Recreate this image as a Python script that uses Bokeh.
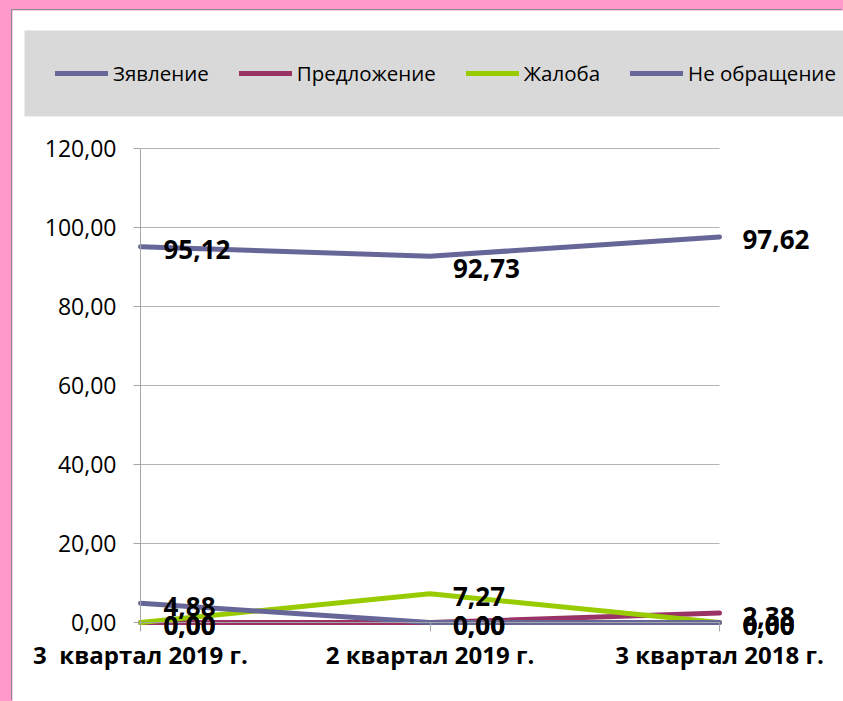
from bokeh.plotting import figure
from bokeh.models import (ColumnDataSource, LabelSet, Legend, LegendItem, Range1d,
                          FixedTicker, GlobalInlineStyleSheet, LinearAxis)
from bokeh.core.properties import value
from bokeh.embed import file_html
from bokeh.resources import INLINE

categories = ["3\u00a0 квартал 2019 г.", "2 квартал 2019 г.", "3 квартал 2018 г."]
series_names = ["Зявление", "Предложение", "Жалоба", "Не обращение"]
zayavlenie = [95.12, 92.73, 97.62]
predlozhenie = [0.00, 0.00, 2.38]
zhaloba = [0.00, 7.27, 0.00]
ne_obrashchenie = [4.88, 0.00, 0.00]
y_ticks = [0, 20, 40, 60, 80, 100, 120]
y_tick_labels = ["0,00", "20,00", "40,00", "60,00", "80,00", "100,00", "120,00"]

series_values = [zayavlenie, predlozhenie, zhaloba, ne_obrashchenie]
colors = ["#666699", "#993366", "#99CC00", "#666699"]
label_dy = [[-3, -12, -3], [-3, -3, -3], [-3, -3, -3], [-3, -3, -3]]

FONT = "Open Sans"
W, H = 831, 691
# plot area inside the canvas (pixels): left, right, top, bottom
PL, PR, PT, PB = 128, 707, 138, 612
# legend box (pixels): left, top, bottom
LL, LT, LB = 12, 20, 106
x0, x1, y0, y1 = 0, 2, 0, 120
sx = (PR - PL) / (x1 - x0)
sy = (PB - PT) / (y1 - y0)
xs = x0 - PL / sx
ye = y1 + PT / sy

p = figure(width=W, height=H, output_backend="svg", toolbar_location=None,
           x_axis_type=None, y_axis_type=None,
           x_range=Range1d(xs, x1 + (W - PR) / sx),
           y_range=Range1d(y0 - (H - PB) / sy, ye),
           min_border=0, background_fill_color="white",
           border_fill_color="white", outline_line_color=None)
p.margin = (10, 0, 0, 12)
p.styles = {"box-shadow": "-1px -1px 0 #8C8C8C"}
p.stylesheets = [GlobalInlineStyleSheet(
    css="html, body {margin:0; padding:0; background:#FF99CC; overflow:hidden;}")]
p.xgrid.visible = False
p.ygrid.visible = False

# grey legend panel
p.quad(left=[xs + LL / sx], right=[xs + W / sx], top=[ye - LT / sy], bottom=[ye - LB / sy],
       fill_color="#D9D9D9", line_color=None)

# horizontal gridlines across the plot area
p.segment(x0=[x0] * len(y_ticks), x1=[x1] * len(y_ticks), y0=y_ticks, y1=y_ticks,
          line_color="#B3B3B3", line_width=1)

# axes at fixed locations
yax = LinearAxis(fixed_location=x0, ticker=FixedTicker(ticks=y_ticks), bounds=(y0, y1))
yax.major_label_overrides = {t: s for t, s in zip(y_ticks, y_tick_labels)}
yax.major_label_text_font = FONT
yax.major_label_text_font_size = "23px"
yax.major_label_text_color = "black"
yax.major_label_standoff = 17
yax.major_tick_in = 0
yax.major_tick_out = 7
yax.minor_tick_line_color = None
yax.axis_line_color = "#A6A6A6"
yax.major_tick_line_color = "#A6A6A6"
p.add_layout(yax, "left")

xax = LinearAxis(fixed_location=y0, ticker=FixedTicker(ticks=[0, 1, 2]), bounds=(x0, x1))
xax.major_label_overrides = {i: c for i, c in enumerate(categories)}
xax.major_label_text_font = FONT
xax.major_label_text_font_style = "bold"
xax.major_label_text_font_size = "24px"
xax.major_label_text_color = "black"
xax.major_label_standoff = 6
xax.major_tick_in = 0
xax.major_tick_out = 9
xax.minor_tick_line_color = None
xax.axis_line_color = "#A6A6A6"
xax.major_tick_line_color = "#A6A6A6"
p.add_layout(xax, "below")

x = [0, 1, 2]
items = []
for name, vals, col in zip(series_names, series_values, colors):
    src = ColumnDataSource(dict(x=x, y=vals))
    r = p.line("x", "y", source=src, line_color=col, line_width=5,
               line_cap="round", line_join="round")
    items.append(LegendItem(label=name, renderers=[r]))

for vals, dy in zip(series_values, label_dy):
    src = ColumnDataSource(dict(x=x, y=vals, dy=dy,
                                t=[f"{v:.2f}".replace(".", ",") for v in vals]))
    p.add_layout(LabelSet(x="x", y="y", text="t", source=src, x_offset=23,
                          y_offset="dy", text_align="left", text_baseline="middle",
                          text_font=value(FONT), text_font_style="bold",
                          text_font_size="26px", text_color="black"))

legend = Legend(items=items, location=(43, H - LB + 1), orientation="horizontal",
                background_fill_alpha=0, border_line_color=None,
                padding=0, spacing=30, glyph_width=53, glyph_height=84,
                label_height=84, label_standoff=5, label_text_font=FONT,
                label_text_font_size="20.5px", label_text_color="black",
                margin=0)
p.add_layout(legend, "center")

open("out.html", "w").write(file_html(p, INLINE))
